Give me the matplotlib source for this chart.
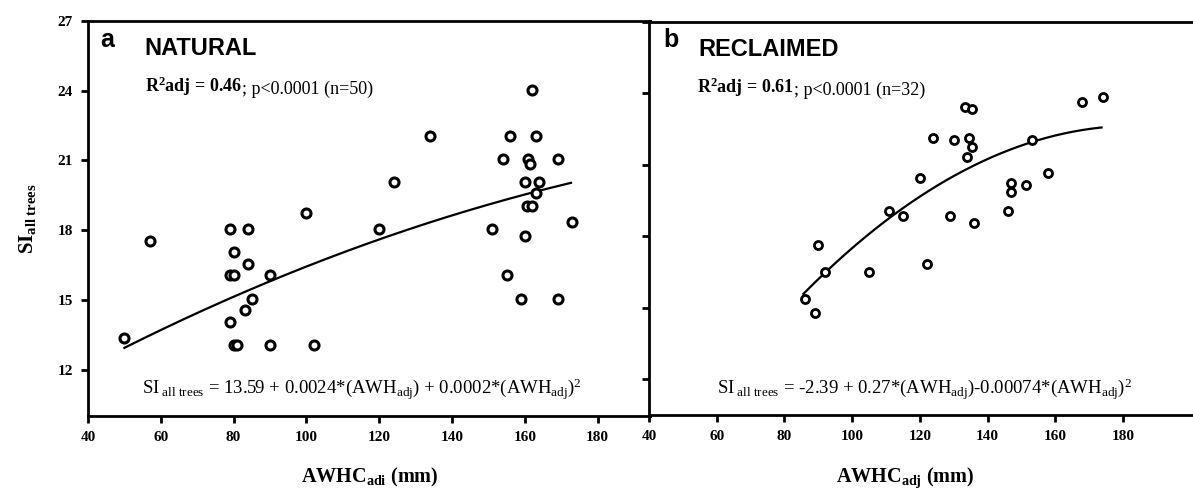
import numpy as np
import matplotlib.pyplot as plt

# natural sites (panel a)
nat_awhc = [57, 79, 84, 100, 120, 124,
            80, 84, 79, 80, 90, 85, 83, 79, 50, 80, 81, 90, 102,
            162, 134, 156, 163, 154, 161, 161.5, 169, 160, 164, 163, 160.5, 162, 173, 151, 160,
            155, 159, 169]
nat_si = [17.55, 18.05, 18.05, 18.75, 18.05, 20.05,
          17.05, 16.55, 16.05, 16.05, 16.05, 15.05, 14.55, 14.05, 13.35, 13.05, 13.05, 13.05, 13.05,
          24.05, 22.05, 22.05, 22.05, 21.05, 21.05, 20.85, 21.05, 20.05, 20.05, 19.6, 19.05, 19.05, 18.35, 18.05, 17.75,
          16.05, 15.05, 15.05]
# points
nat_fit_x = [50, 89.7, 125.6, 172.7]
nat_fit_y = [12.94, 15.76, 17.92, 20.03]

# reclaimed sites (panel b)
rec_awhc = [168, 174, 133.5, 135.5, 124, 130, 134.5, 135.5, 134, 153, 120, 158, 147, 147, 151.5,
            111, 115, 129, 136, 146, 90, 92, 105, 122, 86, 89]
rec_si = [23.65, 23.85, 23.45, 23.35, 22.15, 22.05, 22.15, 21.75, 21.35, 22.05, 20.45, 20.65, 20.25, 19.85, 20.15,
          19.05, 18.85, 18.85, 18.55, 19.05, 17.65, 16.5, 16.5, 16.85, 15.35, 14.8]
rec_fit_x = [85.6, 114.2, 135.8, 152.7, 173.7]
rec_fit_y = [15.63, 18.97, 21.0, 22.05, 22.51]

x_ticks = [40, 60, 80, 100, 120, 140, 160, 180]
y_ticks = [12, 15, 18, 21, 24, 27]

plt.rcParams['font.family'] = ['Liberation Serif', 'DejaVu Serif']
plt.rcParams['mathtext.fontset'] = 'custom'
plt.rcParams['mathtext.rm'] = 'Liberation Serif'
plt.rcParams['mathtext.bf'] = 'Liberation Serif:bold'
plt.rcParams['mathtext.it'] = 'Liberation Serif:italic'

fig = plt.figure(figsize=(11.93, 4.90), dpi=100)
ax1 = fig.add_axes([88 / 1193, 1 - 416 / 490, (650 - 88) / 1193, (416 - 21) / 490])
ax2 = fig.add_axes([649 / 1193, 1 - 415 / 490, (1193 - 649) / 1193, (415 - 22) / 490])


def style_axis(ax, xlim, ylim):
    ax.set_xlim(*xlim)
    ax.set_ylim(*ylim)
    ax.set_xticks(x_ticks)
    ax.set_yticks(y_ticks)
    for s in ax.spines.values():
        s.set_linewidth(2.0)
    ax.tick_params(direction='out', length=5, width=2, labelsize=11, pad=6)
    for lab in ax.get_xticklabels() + ax.get_yticklabels():
        lab.set_fontweight('bold')


def plot_panel(ax, x, y, fx, fy, ms, mew):
    ax.plot(x, y, 'o', ms=ms, mew=mew, mfc='white', mec='black', zorder=3)
    # quadratic regression line through the points
    coef = np.polyfit(fx, fy, 2)
    xs = np.linspace(min(fx), max(fx), 200)
    ax.plot(xs, np.polyval(coef, xs), color='black', lw=1.6, zorder=2)


def r2_text(ax, x, y, bold_part, rest):
    t = ax.text(x, y, bold_part, fontweight='bold', fontsize=13)
    ax.annotate(rest, xy=(1, 0), xycoords=t, va='bottom', fontsize=13)


# panel a
style_axis(ax1, (40, 194.4), (10, 27))
plot_panel(ax1, nat_awhc, nat_si, nat_fit_x, nat_fit_y, 6.5, 2.2)
ax1.text(43.3, 25.9, 'a', family='Liberation Sans', fontweight='bold', fontsize=18)
ax1.text(55.6, 25.53, 'NATURAL', family='Liberation Sans', fontweight='bold', fontsize=17)
r2_text(ax1, 55.6, 23.94, r'R$^{\mathbf{2}}$adj = 0.46', '; p<0.0001 (n=50)')
ax1.text(54.8, 10.92, r'SI$_{\rm\ all\ trees}$ = 13.59 + 0.0024*(AWH$_{\rm adj}$) + 0.0002*(AWH$_{\rm adj}$)$^{2}$',
         fontsize=13.5)
ax1.set_ylabel(r'SI$_{\mathbf{all\ trees}}$', fontweight='bold', fontsize=15, labelpad=14)
fig.text(370 / 1193, 8 / 490, r'AWHC$_{\mathbf{adi}}$ (mm)', fontweight='bold', fontsize=14.5, ha='center')

# panel b
style_axis(ax2, (40, 40 + (1193 - 649) / 3.385), (10.5, 27))
ax2.spines['right'].set_visible(False)
ax2.set_yticklabels([])
plot_panel(ax2, rec_awhc, rec_si, rec_fit_x, rec_fit_y, 5.8, 2.0)
ax2.text(44.1, 25.95, 'b', family='Liberation Sans', fontweight='bold', fontsize=18)
ax2.text(54.5, 25.57, 'RECLAIMED', family='Liberation Sans', fontweight='bold', fontsize=17)
r2_text(ax2, 54.2, 24.02, r'R$^{\mathbf{2}}$adj = 0.61', '; p<0.0001 (n=32)')
ax2.text(60.1, 11.35, r'SI$_{\rm\ all\ trees}$ = -2.39 + 0.27*(AWH$_{\rm adj}$)-0.00074*(AWH$_{\rm adj}$)$^{2}$',
         fontsize=13.5)
fig.text(905 / 1193, 8 / 490, r'AWHC$_{\mathbf{adj}}$ (mm)', fontweight='bold', fontsize=14.5, ha='center')

fig.savefig('out.png', dpi=100)
